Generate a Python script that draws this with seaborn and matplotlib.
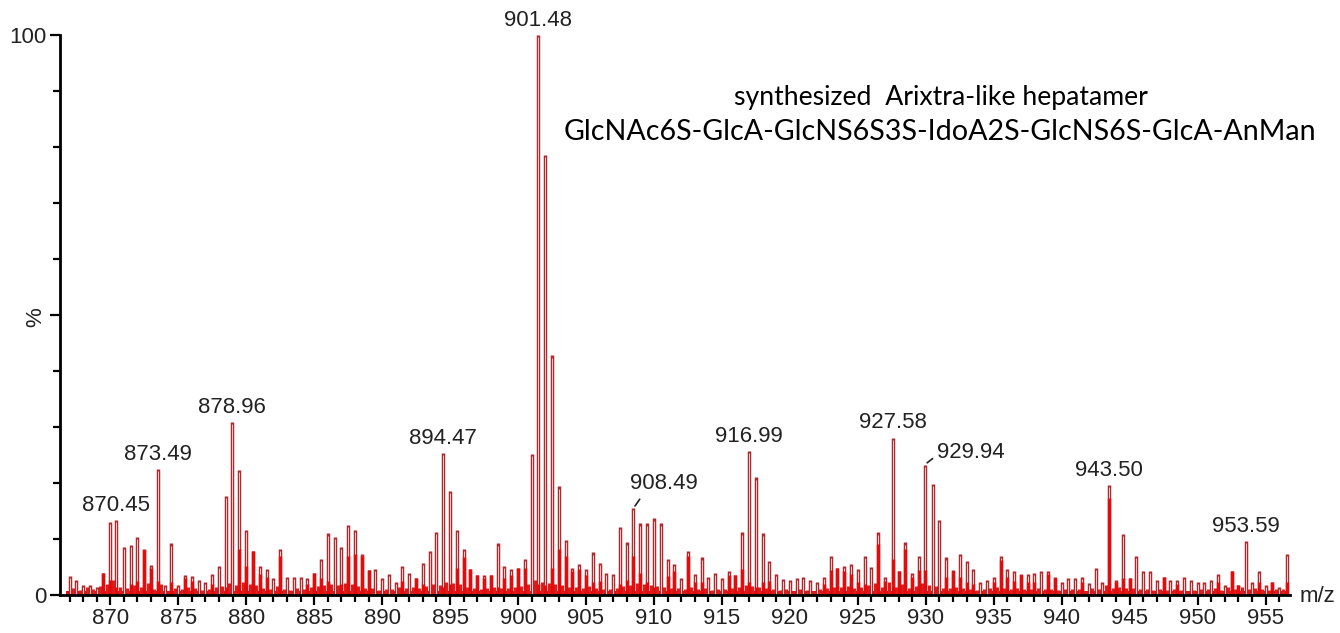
import numpy as np
import pandas as pd
import matplotlib
matplotlib.use("Agg")
import matplotlib.pyplot as plt
import seaborn as sns

# ---------------- data ----------------
peak_mz = [
    867.0, 867.5, 868.0, 868.5, 869.0, 869.5, 870.0, 870.45, 871.0, 871.5,
    872.0, 872.5, 873.0, 873.49, 874.0, 874.5, 875.0, 875.5, 876.0, 876.5,
    877.0, 877.5, 878.0, 878.5, 878.96, 879.5, 880.0, 880.5, 881.0, 881.5,
    882.0, 882.5, 883.0, 883.5, 884.0, 884.5, 885.0, 885.5, 886.0, 886.5,
    887.0, 887.5, 888.0, 888.5, 889.0, 889.5, 890.0, 890.5, 891.0, 891.5,
    892.0, 892.5, 893.0, 893.5, 894.0, 894.47, 895.0, 895.5, 896.0, 896.5,
    897.0, 897.5, 898.0, 898.5, 899.0, 899.5, 900.0, 900.5, 901.0, 901.48,
    902.0, 902.5, 903.0, 903.5, 904.0, 904.5, 905.0, 905.5, 906.0, 906.5,
    907.0, 907.5, 908.0, 908.49, 909.0, 909.5, 910.0, 910.5, 911.0, 911.5,
    912.0, 912.5, 913.0, 913.5, 914.0, 914.5, 915.0, 915.5, 916.0, 916.5,
    916.99, 917.5, 918.0, 918.5, 919.0, 919.5, 920.0, 920.5, 921.0, 921.5,
    922.0, 922.5, 923.0, 923.5, 924.0, 924.5, 925.0, 925.5, 926.0, 926.5,
    927.0, 927.58, 928.0, 928.5, 929.0, 929.5, 929.94, 930.5, 931.0, 931.5,
    932.0, 932.5, 933.0, 933.5, 934.0, 934.5, 935.0, 935.5, 936.0, 936.5,
    937.0, 937.5, 938.0, 938.5, 939.0, 939.5, 940.0, 940.5, 941.0, 941.5,
    942.0, 942.5, 943.0, 943.50, 944.0, 944.5, 945.0, 945.5, 946.0, 946.5,
    947.0, 947.5, 948.0, 948.5, 949.0, 949.5, 950.0, 950.5, 951.0, 951.5,
    952.0, 952.5, 953.0, 953.59, 954.0, 954.5, 955.0, 955.5, 956.0, 956.57,
]
peak_int = [
    3.4, 2.7, 1.8, 1.8, 1.5, 4.0, 13.1, 13.4, 8.6, 8.9,
    10.4, 8.2, 5.4, 22.5, 1.8, 9.2, 1.8, 3.6, 3.4, 2.7,
    2.4, 3.8, 5.2, 17.7, 30.9, 22.4, 11.6, 7.9, 5.2, 4.6,
    3.0, 8.2, 3.3, 3.3, 3.3, 3.0, 4.0, 6.4, 11.0, 10.4,
    8.6, 12.5, 11.6, 7.3, 4.4, 4.6, 3.0, 3.8, 2.4, 5.2,
    4.0, 3.0, 5.8, 7.9, 11.3, 25.4, 18.6, 11.6, 8.2, 4.6,
    3.6, 3.6, 3.6, 9.2, 5.2, 4.6, 4.8, 6.4, 25.2, 100.0,
    78.6, 42.8, 19.4, 9.8, 4.9, 5.6, 4.6, 7.6, 5.8, 4.0,
    3.8, 12.2, 9.4, 15.5, 12.8, 12.8, 13.7, 12.8, 6.4, 5.6,
    3.0, 7.9, 3.8, 6.7, 3.3, 4.0, 3.0, 4.3, 3.6, 11.2,
    25.7, 21.0, 11.0, 6.1, 3.8, 2.9, 2.7, 3.0, 3.3, 2.7,
    2.4, 3.3, 7.0, 4.8, 5.2, 5.6, 4.6, 7.0, 5.0, 11.2,
    3.3, 28.1, 4.3, 9.4, 4.0, 7.0, 23.3, 19.8, 13.4, 6.7,
    4.4, 7.3, 6.1, 4.6, 2.4, 2.7, 3.3, 7.0, 4.6, 4.3,
    3.8, 3.8, 4.0, 4.3, 4.3, 3.3, 2.4, 3.0, 3.0, 3.3,
    2.1, 4.9, 2.4, 19.6, 2.7, 10.9, 3.0, 7.0, 4.3, 4.3,
    2.7, 3.3, 2.7, 2.7, 3.3, 2.7, 2.4, 2.4, 2.7, 3.8,
    1.8, 4.2, 1.8, 9.7, 2.4, 4.3, 1.8, 2.4, 1.5, 7.3,
]

# bright red (filled) part of the profile peaks
fill_mz = [
    869.5, 870.0, 870.45, 871.5, 872.0, 872.5, 873.0, 873.49, 874.5, 875.5,
    876.0, 877.5, 878.5, 879.5, 880.0, 880.5, 881.0, 881.5, 882.5, 884.5,
    885.0, 885.5, 886.0, 887.0, 887.5, 888.0, 888.5, 889.0, 891.5, 892.5,
    893.0, 894.47, 895.0, 895.5, 896.0, 896.5, 897.0, 897.5, 898.0, 898.5,
    899.0, 899.5, 900.0, 900.5, 901.48, 902.0, 902.5, 903.0, 903.5, 904.0,
    904.5, 905.0, 905.5, 906.0, 907.5, 908.0, 908.49, 909.0, 909.5, 910.0,
    911.0, 911.5, 912.5, 913.0, 913.5, 915.5, 916.0, 916.5, 916.99, 917.5,
    918.0, 918.5, 922.5, 923.0, 923.5, 924.0, 924.5, 925.0, 925.5, 926.5,
    927.0, 927.58, 928.0, 928.5, 929.0, 929.5, 929.94, 931.5, 932.0, 932.5,
    933.0, 933.5, 935.0, 935.5, 936.0, 936.5, 937.0, 937.5, 938.0, 939.0,
    939.5, 941.5, 943.50, 944.0, 944.5, 945.0, 947.5, 948.5, 951.5, 952.5,
    953.0, 954.5, 955.5, 956.57,
]
fill_int = [
    4.0, 2.6, 1.5, 2.0, 2.5, 8.0, 4.8, 2.5, 2.4, 3.0,
    2.5, 2.0, 1.5, 8.2, 5.2, 7.9, 3.8, 3.3, 7.0, 2.0,
    4.0, 3.0, 2.5, 2.0, 7.0, 7.3, 7.0, 4.4, 2.5, 3.0,
    2.0, 1.5, 2.0, 4.8, 6.8, 4.6, 3.6, 3.0, 3.6, 1.5,
    3.0, 3.5, 4.8, 4.8, 2.0, 1.8, 4.8, 8.3, 7.0, 4.3,
    4.6, 3.5, 2.4, 2.5, 2.0, 2.6, 7.0, 4.0, 2.4, 1.5,
    3.4, 4.3, 7.0, 2.4, 2.4, 3.5, 3.5, 4.6, 2.4, 1.5,
    2.4, 2.5, 2.0, 4.4, 4.8, 4.3, 3.8, 2.4, 2.0, 9.1,
    2.5, 6.4, 4.3, 8.2, 3.3, 4.4, 4.4, 3.3, 4.2, 3.3,
    2.4, 2.0, 2.4, 6.2, 3.3, 2.5, 3.5, 2.4, 2.4, 3.8,
    3.0, 2.4, 17.3, 2.4, 3.0, 3.0, 3.3, 2.0, 2.4, 4.2,
    1.8, 2.4, 2.4, 2.4,
]

# small baseline peaks lying between the main peaks (one per gap)
grass_int = [
    1.2, 0.9, 1.4, 1.0, 1.6, 2.0, 2.6, 1.5, 1.3, 1.8,
    1.4, 2.2, 1.1, 1.9, 0.8, 1.2, 1.0, 1.5, 1.3, 0.9,
    1.1, 1.4, 1.6, 2.2, 1.8, 2.4, 1.9, 1.7, 1.2, 1.0,
    1.6, 1.1, 0.9, 1.3, 1.0, 1.4, 1.6, 1.8, 2.0, 1.7,
    2.2, 1.9, 1.6, 1.3, 1.2, 0.9, 1.1, 1.0, 1.4, 1.2,
    1.5, 1.3, 1.6, 2.0, 1.8, 2.4, 2.1, 1.9, 1.5, 1.3,
    1.1, 1.2, 1.5, 1.3, 1.2, 1.4, 1.6, 2.0, 2.6, 2.4,
    2.2, 2.0, 1.8, 1.5, 1.4, 1.3, 1.6, 1.2, 1.1, 1.0,
    1.3, 1.6, 1.8, 2.2, 1.9, 1.7, 1.6, 1.4, 1.3, 1.2,
    1.0, 1.5, 1.1, 1.2, 0.9, 1.1, 1.0, 1.2, 1.4, 1.8,
    1.6, 1.5, 1.2, 1.1, 0.9, 1.0, 0.8, 1.0, 0.9, 0.8,
    1.0, 1.3, 1.5, 1.4, 1.6, 1.3, 1.5, 1.7, 2.2, 1.5,
    2.4, 1.4, 2.0, 1.3, 1.6, 2.2, 1.8, 1.6, 1.3, 1.2,
    1.4, 1.3, 1.1, 0.9, 1.0, 1.2, 1.5, 1.3, 1.1, 1.2,
    1.0, 1.1, 1.2, 1.1, 1.0, 0.9, 1.0, 1.1, 1.0, 0.8,
    1.2, 1.0, 1.8, 1.3, 1.4, 1.2, 1.3, 1.1, 1.0, 0.9,
    1.0, 0.9, 1.0, 0.9, 0.8, 0.9, 1.0, 1.1, 1.2, 0.9,
    1.4, 1.0, 1.5, 1.1, 1.2, 1.0, 0.9, 1.0, 1.1,
]

label_mz = [870.45, 873.49, 878.96, 894.47, 901.48, 908.49,
            916.99, 927.58, 929.94, 943.50, 953.59]
label_text = ["870.45", "873.49", "878.96", "894.47", "901.48", "908.49",
              "916.99", "927.58", "929.94", "943.50", "953.59"]

title_lines = ["synthesized  Arixtra-like hepatamer",
               "GlcNAc6S-GlcA-GlcNS6S3S-IdoA2S-GlcNS6S-GlcA-AnMan"]

xlim = (866.3, 956.8)

# ---------------- figure ----------------
sns.set_theme(style="ticks")
plt.rcParams["font.family"] = ["Liberation Sans", "DejaVu Sans"]

fig = plt.figure(figsize=(13.40, 6.33), dpi=100)
ax = fig.add_axes([60 / 1340, 1 - 595 / 633, 1230 / 1340, 560 / 633])

peaks = pd.DataFrame({"mz": peak_mz, "intensity": peak_int})
fills = pd.DataFrame({"mz": fill_mz, "intensity": fill_int})
mid = [(a + b) / 2 for a, b in zip(peak_mz[:-1], peak_mz[1:])]
grass = pd.DataFrame({"mz": mid, "intensity": grass_int})

# baseline band of the profile spectrum
ax.axhspan(0, 0.7, xmin=0.005, xmax=0.998, color="#e01010", lw=0, zorder=1)

# small baseline peaks
ax.vlines(grass["mz"], 0, grass["intensity"], color="#e31a1a", lw=2.2, zorder=2)

# main profile peaks: dark-red outline with light core
ax.vlines(peaks["mz"], 0, peaks["intensity"], color="#ad2a2e", lw=2.5, zorder=3)
ax.vlines(peaks["mz"], 0, peaks["intensity"] - 0.4, color="#f3c9c9", lw=0.7, zorder=4)

# bright red filled part
ax.vlines(fills["mz"], 0, fills["intensity"], color="#e30b0b", lw=2.4, zorder=5)

ax.set_xlim(*xlim)
ax.set_ylim(0, 100)

ax.set_xticks(np.arange(870, 956, 5))
ax.set_xticks(np.arange(867, 957, 1), minor=True)
ax.set_yticks([0, 50, 100])
ax.set_yticks(np.arange(0, 101, 10), minor=True)
ax.set_yticklabels(["0", "%", "100"])
ax.get_yticklabels()[1].set_rotation(90)

for s in ["top", "right"]:
    ax.spines[s].set_visible(False)
for s in ["left", "bottom"]:
    ax.spines[s].set_linewidth(2.0)
    ax.spines[s].set_color("black")
    ax.spines[s].set_zorder(6)

ax.tick_params(axis="both", which="both", direction="out", color="black",
               width=1.6, labelsize=16, labelcolor="#222222")
ax.tick_params(axis="x", which="major", length=7, pad=2)
ax.tick_params(axis="x", which="minor", length=5)
ax.tick_params(axis="y", which="major", length=7, pad=3)
ax.tick_params(axis="y", which="minor", length=5)
ax.grid(False)
ax.set_xlabel("")
ax.set_ylabel("")

# peak labels
lookup = dict(zip(peak_mz, peak_int))
for mz, txt in zip(label_mz, label_text):
    y = lookup[mz]
    if txt == "908.49":
        ax.annotate(txt, xy=(mz, y), xytext=(22, 18), textcoords="offset points",
                    ha="center", va="center", fontsize=16, color="#222222",
                    arrowprops=dict(arrowstyle="-", color="#222222", lw=1.2,
                                    shrinkA=2, shrinkB=2, relpos=(0.2, 0.0)))
    elif txt == "929.94":
        ax.annotate(txt, xy=(mz, y), xytext=(33, 9), textcoords="offset points",
                    ha="center", va="center", fontsize=16, color="#222222",
                    arrowprops=dict(arrowstyle="-", color="#222222", lw=1.2,
                                    shrinkA=1, shrinkB=2, relpos=(0.0, 0.35)))
    else:
        ax.annotate(txt, xy=(mz, y), xytext=(0, 3), textcoords="offset points",
                    ha="center", va="bottom", fontsize=16, color="#222222")

# title text
fig.text(941 / 1340, 1 - 97 / 633, title_lines[0], ha="center", va="center",
         fontsize=19.2, family=["Lato", "DejaVu Sans"], color="black")
fig.text(940 / 1340, 1 - 132 / 633, title_lines[1], ha="center", va="center",
         fontsize=20.6, family=["Lato", "DejaVu Sans"], color="black")

# axis unit
fig.text(1300 / 1340, 1 - 597 / 633, "m/z", ha="left", va="center",
         fontsize=16, color="#222222")

fig.savefig("out.png", dpi=100, facecolor="white")
